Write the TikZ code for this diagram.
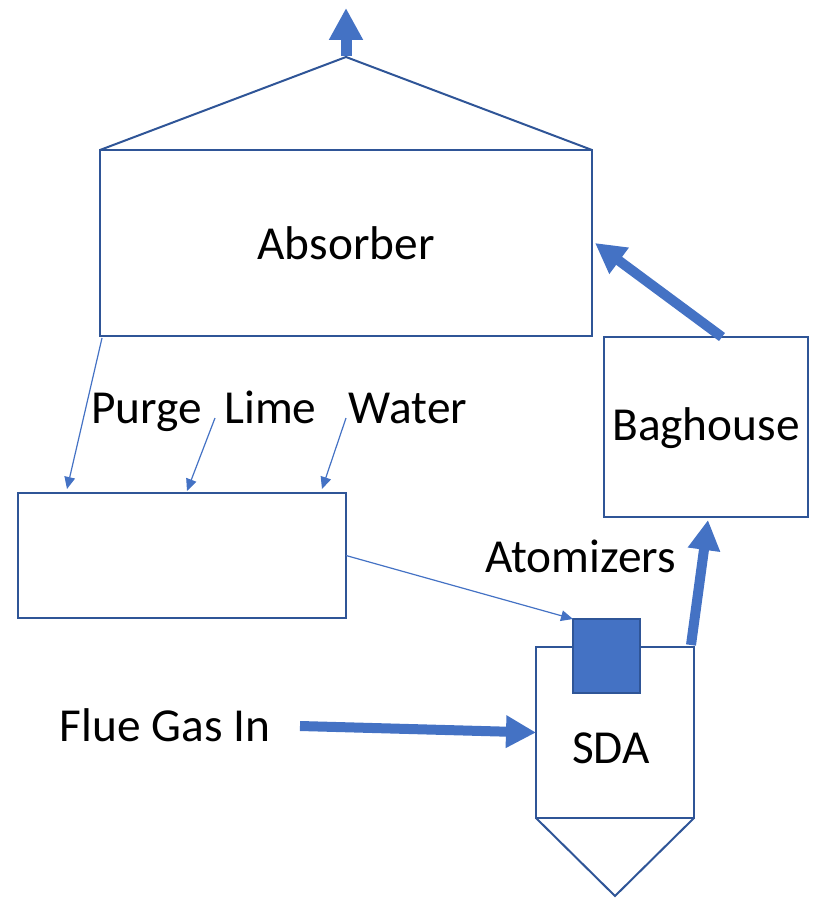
\documentclass[tikz,border=0pt]{standalone}
\usepackage{fontspec}
\setmainfont{Carlito}
\usetikzlibrary{arrows.meta,calc}
\definecolor{edge}{HTML}{2F5597}
\definecolor{accent}{HTML}{4472C4}
\begin{document}
\begin{tikzpicture}[x=0.75pt,y=-0.75pt,
  unit box/.style={draw=edge, line width=1.5pt, rectangle, inner sep=0pt, outer sep=0pt},
  outline/.style={draw=edge, line width=1.5pt},
  caption/.style={font=\fontsize{35.5}{40}\selectfont, anchor=base, inner sep=0pt},
  feed/.style={draw=accent, line width=0.9pt, -{Triangle[length=9pt,width=8pt]}},
  flow/.style={draw=accent, color=accent, line width=7.5pt, -{Triangle[length=22.5pt,width=23pt]}},
]
\useasboundingbox (0,0) rectangle (815,898);

% process units
\node[unit box, minimum width=369pt, minimum height=139.5pt] (absorber) at (346,243) {};
\node[unit box, minimum width=153pt, minimum height=135pt] (baghouse) at (706,427) {};
\node[unit box, minimum width=246pt, minimum height=93.75pt] (mixer) at (182,555.5) {};
\node[unit box, minimum width=118.5pt, minimum height=128.25pt] (sda) at (615,732.5) {};
\node[unit box, fill=accent, minimum width=50.25pt, minimum height=55.5pt] (atomizer) at (606.5,656) {};

% stack outlet above the absorber roof
\coordinate (apex) at (346,56);
\coordinate (stack top) at (346,8);
\draw[flow, line width=8.25pt, -{Triangle[length=24pt,width=24pt]}] (apex) -- (stack top);
\draw[outline] (absorber.north west) -- (346,57) -- (absorber.north east);

% SDA hopper
\coordinate (hopper tip) at (615,896);
\draw[outline] (sda.south west) -- (hopper tip) -- (sda.south east);

% labels
\node[caption] (absorber label) at (346,260) {Absorber};
\node[caption] (baghouse label) at (706,440) {Baghouse};
\node[caption] (purge label) at (146.5,423) {Purge};
\node[caption] (lime label) at (270.5,423) {Lime};
\node[caption] (water label) at (408,423) {Water};
\node[caption] (atomizers label) at (580.5,572) {Atomizers};
\node[caption] (flue label) at (165,741) {Flue Gas In};
\node[caption] (sda label) at (611,763) {SDA};

% feeds to the slurry tank
\coordinate (lime in) at (215,418);
\coordinate (water in) at (346,418);
\draw[feed] ($(absorber.south west)+(2,2)$) -- ($(mixer.north west)+(49,-4)$);
\draw[feed] (lime in) -- ($(mixer.north west)+(169,-2)$);
\draw[feed] (water in) -- ($(mixer.north west)+(304,-4)$);
\draw[feed] (mixer.east) -- (atomizer.north west);

% gas path
\coordinate (flue start) at (300,726);
\draw[flow] (flue start) -- (sda.west);
\draw[flow] ($(sda.north east)+(-3,-2)$) -- ($(baghouse.south)+(2,3)$);
\draw[flow] ($(baghouse.north)+(16,0)$) -- ($(absorber.east)+(3,0)$);
\end{tikzpicture}
\end{document}
